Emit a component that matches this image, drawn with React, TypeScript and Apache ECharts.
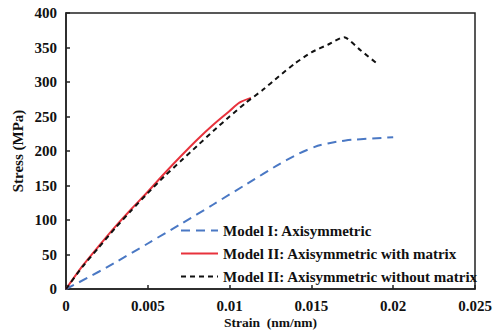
import React, { useEffect, useRef } from "react";
import * as echarts from "echarts";

const modelIStrain = [0, 0.002, 0.004, 0.006, 0.008, 0.01, 0.012, 0.0135, 0.015, 0.016, 0.017, 0.018, 0.02];
const modelIStress = [0, 25, 52, 80, 108, 137, 166, 187, 204, 211, 215, 217, 220];

const withMatrixStrain = [0, 0.001, 0.002, 0.003, 0.004, 0.005, 0.006, 0.007, 0.008, 0.009, 0.01, 0.0106, 0.0113];
const withMatrixStress = [0, 33, 62, 90, 116, 141, 167, 192, 216, 238, 258, 270, 277];

const withoutMatrixStrain = [0, 0.001, 0.002, 0.003, 0.004, 0.005, 0.006, 0.007, 0.008, 0.009, 0.01, 0.011, 0.012, 0.013, 0.014, 0.015, 0.016, 0.017, 0.018, 0.0191];
const withoutMatrixStress = [0, 32, 60, 88, 114, 139, 163, 185, 207, 229, 250, 270, 288, 308, 327, 343, 354, 365, 346, 325];

const seriesNames = [
  "Model I: Axisymmetric",
  "Model II: Axisymmetric with matrix",
  "Model II: Axisymmetric without matrix",
];

const zip = (xs: number[], ys: number[]) => xs.map((x, i) => [x, ys[i]]);

const FONT = "'Liberation Serif', 'Times New Roman', serif";

export default function App() {
  const ref = useRef<HTMLDivElement>(null);
  useEffect(() => {
    if (!ref.current) return;
    const chart = echarts.init(ref.current, undefined, { renderer: "svg" });
    chart.setOption({
      animation: false,
      backgroundColor: "#ffffff",
      grid: {
        left: 66,
        right: 19,
        top: 13,
        bottom: 42,
        outerBoundsMode: "none",
        containLabel: false,
        show: true,
        borderColor: "#222",
        borderWidth: 1.5,
      },
      legend: {
        orient: "vertical",
        left: 180,
        top: 223,
        padding: 0,
        itemWidth: 37,
        itemHeight: 12,
        itemGap: 8,
        itemStyle: { opacity: 0 },
        textStyle: { fontFamily: FONT, fontWeight: "bold", fontSize: 15, color: "#111" },
        data: seriesNames,
      },
      xAxis: {
        type: "value",
        min: 0,
        max: 0.025,
        interval: 0.005,
        name: "Strain  (nm/nm)",
        nameLocation: "middle",
        nameGap: 26,
        nameMoveOverlap: false,
        nameTextStyle: { fontFamily: FONT, fontWeight: "bold", fontSize: 13.5, color: "#111" },
        axisLine: { lineStyle: { color: "#222", width: 1.5 } },
        axisTick: { inside: true, length: 4, lineStyle: { color: "#222", width: 1.5 } },
        axisLabel: {
          fontFamily: FONT,
          fontWeight: "bold",
          fontSize: 15,
          color: "#111",
          margin: 9,
          formatter: (v: number) => String(+v.toFixed(3)),
        },
        splitLine: { show: false },
      },
      yAxis: {
        type: "value",
        min: 0,
        max: 400,
        interval: 50,
        name: "Stress (MPa)",
        nameLocation: "middle",
        nameGap: 41,
        nameMoveOverlap: false,
        nameTextStyle: { fontFamily: FONT, fontWeight: "bold", fontSize: 15, color: "#111" },
        axisLine: { show: true, lineStyle: { color: "#222", width: 1.5 } },
        axisTick: { show: true, inside: true, length: 4, lineStyle: { color: "#222", width: 1.5 } },
        axisLabel: { fontFamily: FONT, fontWeight: "bold", fontSize: 15, color: "#111", margin: 9 },
        splitLine: { show: false },
      },
      series: [
        {
          name: seriesNames[0],
          type: "line",
          data: zip(modelIStrain, modelIStress),
          symbol: "none",
          smooth: 0.5,
          lineStyle: { color: "#4a78c4", width: 2, type: [9, 6] },
          itemStyle: { color: "#4a78c4" },
        },
        {
          name: seriesNames[1],
          type: "line",
          data: zip(withMatrixStrain, withMatrixStress),
          symbol: "none",
          smooth: 0.3,
          lineStyle: { color: "#e8323c", width: 2, type: "solid" },
          itemStyle: { color: "#e8323c" },
        },
        {
          name: seriesNames[2],
          type: "line",
          data: zip(withoutMatrixStrain, withoutMatrixStress),
          symbol: "none",
          smooth: 0.2,
          lineStyle: { color: "#111", width: 2, type: [5, 4] },
          itemStyle: { color: "#111" },
        },
      ],
    });
    return () => chart.dispose();
  }, []);
  return <div ref={ref} style={{ width: 494, height: 331, position: "absolute", left: 0, top: 0 }} />;
}
